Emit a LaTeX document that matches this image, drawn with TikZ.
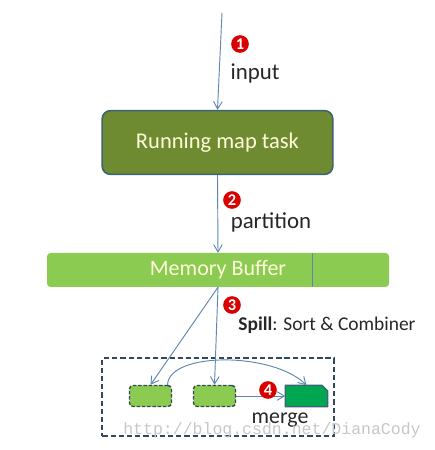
\documentclass[tikz,border=0pt]{standalone}
\usepackage{fontspec}
\setmainfont{Carlito}
\setmonofont{Liberation Mono}
\usetikzlibrary{arrows.meta,calc}
\definecolor{mtseta}{HTML}{5F86B3}
\definecolor{mtoliva}{HTML}{6F8B32}
\definecolor{mtborda}{HTML}{3E6376}
\definecolor{mtverde}{HTML}{8CCB52}
\definecolor{mtescuro}{HTML}{00A651}
\definecolor{mttraco}{HTML}{2F4A52}
\definecolor{mtmoldura}{HTML}{33475B}
\tikzset{
  mtseta/.style={-{Straight Barb[length=2.2mm,width=2.6mm]}, draw=mtseta, line width=0.8pt},
  mtselo/.style={circle, fill=red!85!black, text=white, font=\fontsize{14}{14}\selectfont\bfseries, inner sep=0pt, minimum size=5.3mm},
  mtrotulo/.style={font=\fontsize{19.5}{19.5}\selectfont, text=black!85},
  mtpedaco/.style={draw=mttraco, fill=mtverde, dash pattern=on 3pt off 1.5pt, line width=1.2pt, rounded corners=3pt, minimum width=1.26cm, minimum height=0.63cm},
}
\begin{document}
\begin{tikzpicture}
    \useasboundingbox (0,0) rectangle (13.05,13.5);
    % ---------------- blocos ----------------
    \coordinate (topo) at (6.66,13.11);
    \node[draw=mtborda, fill=mtoliva, line width=1.4pt, rounded corners=7pt, minimum width=6.92cm, minimum height=1.91cm, text=white!85!yellow, font=\fontsize{19.2}{19.2}\selectfont] (mapa) at (6.525,9.225) {Running map task};
    \node[fill=mtverde, rounded corners=3pt, minimum width=10.26cm, minimum height=1.02cm, text=white!85!yellow, font=\fontsize{18.8}{18.8}\selectfont] (buffer) at (6.54,5.4) {Memory Buffer};
    % ---------------- spill ----------------
    \node[draw=mtmoldura, dash pattern=on 4.5pt off 2.5pt, line width=1.5pt, minimum width=6.94cm, minimum height=2.32cm] (moldura) at (6.54,1.59) {};
    \node[mtpedaco] (sp1) at (4.515,1.62) {};
    \node[mtpedaco] (sp2) at (6.435,1.62) {};
    \node[minimum width=1.26cm, minimum height=0.63cm, inner sep=0pt] (sp3) at (9.195,1.62) {};
    \draw[draw=mtborda, fill=mtescuro, line width=1.2pt, line join=round] (sp3.south west) -- (sp3.north west) -- ([xshift=-5pt]sp3.north east) -- ([yshift=-5pt]sp3.north east) -- (sp3.south east) -- cycle;
    % ---------------- setas ----------------
    \draw[mtseta] (topo) -- (mapa.north);
    \draw[mtseta] (mapa.south) -- (buffer.north);
    \draw[mtseta] (buffer.south) -- (sp1.north);
    \draw[mtseta] (buffer.south) -- (sp2.north);
    \draw[mtseta] ([xshift=-4pt]sp1.north east) .. controls +(0.05,1) and +(-1,1) .. (sp3.north);
    \draw[mtseta] (sp2.east) -- (sp3.west);
    \draw[draw=mtseta, line width=0.8pt] ($(buffer.north west)!0.777!(buffer.north east)$) -- ($(buffer.south west)!0.777!(buffer.south east)$);
    % ---------------- rotulos ----------------
    \node[mtselo] (um) at (7.2,12.18) {1};
    \node[mtrotulo] (entrada) at (7.65,11.31) {input};
    \node[mtselo] (dois) at (6.96,7.5) {2};
    \node[mtrotulo] (particao) at (8.13,6.84) {partition};
    \node[mtselo] (tres) at (6.96,4.35) {3};
    \node[font=\fontsize{16.6}{16.6}\selectfont, text=black!85] (derrame) at (9.81,3.75) {\textbf{Spill}: Sort \& Combiner};
    \node[mtselo] (quatro) at (8.04,1.8) {4};
    \node[mtrotulo, font=\fontsize{18.7}{18.7}\selectfont] (juncao) at (8.4,0.9) {merge};
    \node[font=\ttfamily\fontsize{14.1}{14.1}\selectfont, text=black!22] (marca) at (8.16,0.6) {http://blog.csdn.net/DianaCody};
\end{tikzpicture}
\end{document}
